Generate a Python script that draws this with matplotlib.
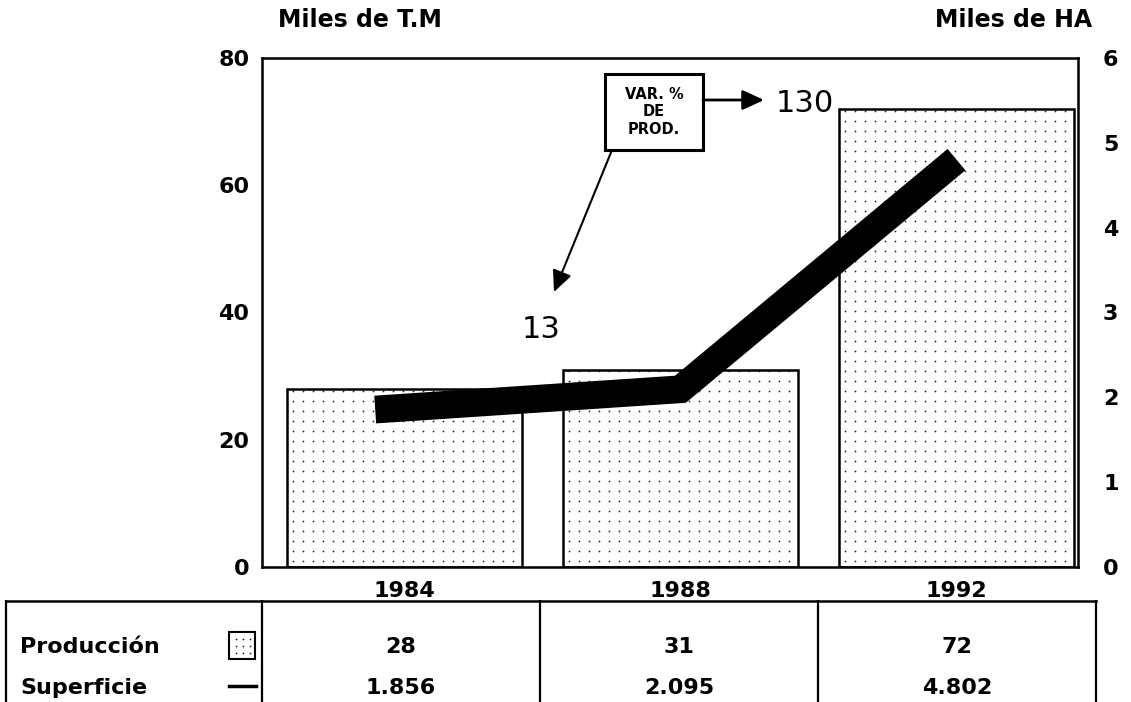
import numpy as np
import matplotlib.pyplot as plt
from matplotlib.patches import Rectangle

years = ['1984', '1988', '1992']
produccion = [28, 31, 72]            # miles de T.M (eje izq.)
superficie = [1.856, 2.095, 4.802]   # miles de HA (eje der.)
prod_labels = ['28', '31', '72']
sup_labels = ['1.856', '2.095', '4.802']
var_pct = ['13', '130']

W, H = 1131, 702
fig = plt.figure(figsize=(W / 100, H / 100), dpi=100)

bold = dict(family='DejaVu Sans', weight='bold', fontsize=16)
title = dict(family='DejaVu Sans', weight='bold', fontsize=17)
narrow = dict(family='DejaVu Sans', fontsize=22)


def dot_fill(axis, patch, dx, dy):
    # punteado regular dentro de la barra
    x0, y0 = patch.get_x(), patch.get_y()
    w, h = patch.get_width(), patch.get_height()
    gx = np.arange(x0 + dx * 0.6, x0 + w, dx)
    gy = np.arange(y0 + dy * 0.6, y0 + h, dy)
    X, Y = np.meshgrid(gx, gy)
    sc = axis.scatter(X.ravel(), Y.ravel(), s=1.6, color='#222222', lw=0, zorder=3)
    sc.set_clip_path(patch)


# main axes (pixel box 262..1078 x 58..567)
ax = fig.add_axes([262 / W, 1 - 567 / H, (1078 - 262) / W, (567 - 58) / H])
x = np.arange(len(years))
bars = ax.bar(x, produccion, width=0.85, color='white', edgecolor='black',
              linewidth=1.8, zorder=2)
ax.set_xlim(-0.515, 2.44)
ax.set_ylim(0, 80)
for b in bars:
    dot_fill(ax, b, 10 / 276, 10 * 80 / 509)
ax.set_yticks([0, 20, 40, 60, 80])
ax.set_xticks(x)
ax.set_xticklabels(years, **bold)
for lab in ax.get_yticklabels():
    lab.set(**bold)
ax.tick_params(axis='y', length=0, pad=9)
ax.tick_params(axis='x', length=0, pad=10)
for s in ax.spines.values():
    s.set_linewidth(1.8)

ax2 = ax.twinx()
xl = [-0.105, 1, 2]
ax2.plot(xl, superficie, color='black', lw=20, solid_capstyle='butt',
         solid_joinstyle='miter')
ax2.set_ylim(0, 6)
ax2.set_yticks(range(7))
for lab in ax2.get_yticklabels():
    lab.set(**bold)
ax2.tick_params(length=0, pad=18)

fig.text(360 / W, 1 - 20 / H, 'Miles de T.M', ha='center', va='center', **title)
fig.text(1014 / W, 1 - 20 / H, 'Miles de HA', ha='center', va='center', **title)

# annotation box (pixel coords via overlay axes)
ov = fig.add_axes([0, 0, 1, 1], zorder=5)
ov.set_xlim(0, W)
ov.set_ylim(H, 0)
ov.axis('off')
ov.add_patch(Rectangle((605, 74), 98, 76, fc='white', ec='black', lw=2.2))
ov.text(654, 112, 'VAR. %\nDE\nPROD.', ha='center', va='center',
        family='DejaVu Sans', weight='bold', fontsize=10.5, linespacing=1.2)
ov.annotate('', xy=(764, 100), xytext=(703, 100),
            arrowprops=dict(arrowstyle='-|>,head_length=1.3,head_width=0.6',
                            lw=2, color='black', shrinkA=0, shrinkB=0))
ov.annotate('', xy=(554, 292), xytext=(612, 150),
            arrowprops=dict(arrowstyle='-|>,head_length=1.3,head_width=0.6',
                            lw=1.5, color='black', shrinkA=0, shrinkB=0))
ov.text(805, 104, var_pct[1], ha='center', va='center', **narrow)
ov.text(541, 330, var_pct[0], ha='center', va='center', **narrow)

# table
tb = fig.add_axes([0, 0, 1, 102 / H])
tb.set_xlim(0, W)
tb.set_ylim(702, 600)
tb.axis('off')
edges = [6, 262, 540, 818, 1096]
tb.plot([edges[0], edges[-1]], [601, 601], color='black', lw=1.8)
for e in edges:
    tb.plot([e, e], [601, 702], color='black', lw=1.6)
tb.text(20, 647, 'Producción', ha='left', va='center', **bold)
tb.text(20, 688, 'Superficie', ha='left', va='center', **bold)
sw = Rectangle((229, 632), 26, 27, fc='white', ec='black', lw=1.5)
tb.add_patch(sw)
gx, gy = np.meshgrid([236, 243, 250], [639, 646, 653])
tb.scatter(gx.ravel(), gy.ravel(), s=1.6, color='#222222', lw=0)
tb.plot([229, 256], [686, 686], color='black', lw=2.5)
for i in range(len(years)):
    cx = (edges[i + 1] + edges[i + 2]) / 2
    tb.text(cx, 647, prod_labels[i], ha='center', va='center', **bold)
    tb.text(cx, 688, sup_labels[i], ha='center', va='center', **bold)

fig.savefig('out.png', dpi=100)
